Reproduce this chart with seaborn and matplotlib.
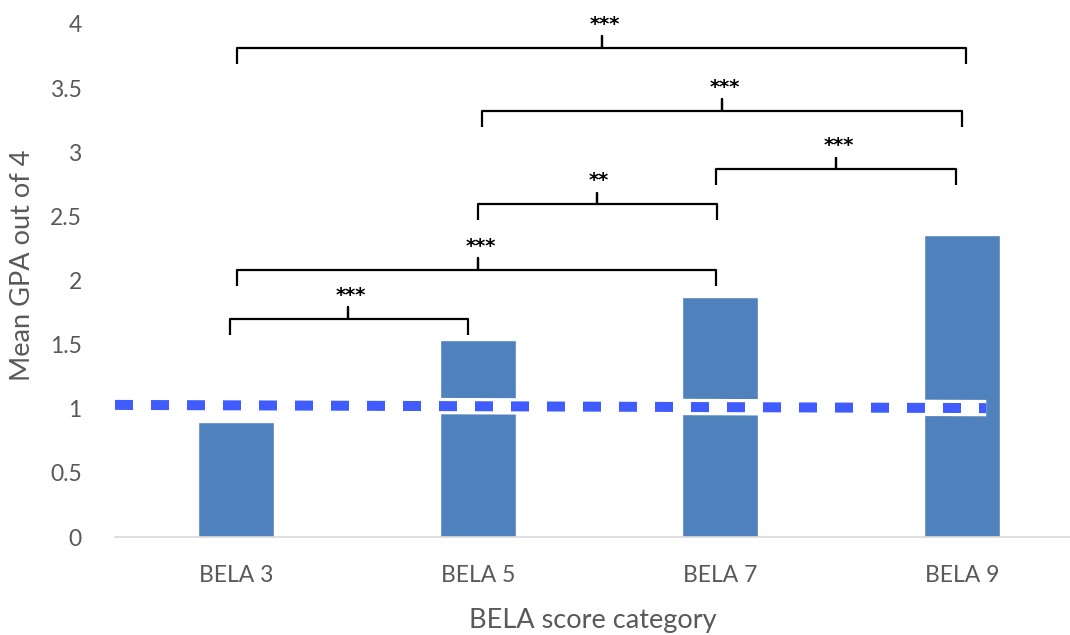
import matplotlib
matplotlib.use("Agg")
import matplotlib.pyplot as plt
import seaborn as sns
import pandas as pd

# ---- data ----
categories = ["BELA 3", "BELA 5", "BELA 7", "BELA 9"]
mean_gpa = [0.897, 1.536, 1.870, 2.355]

# reference (dashed) line endpoints
ref_x = [-0.5, 3.10]
ref_y = [1.03, 1.005]

# significance brackets: (left x, right x, tip x, bar y, label)
brackets = [
    (-0.025, 0.959, 0.463, 1.70, "***"),
    (0.004, 1.983, 1.000, 2.082, "***"),
    (1.000, 1.988, 1.490, 2.596, "**"),
    (1.983, 2.975, 2.479, 2.869, "***"),
    (1.017, 3.000, 2.008, 3.322, "***"),
    (0.004, 3.017, 1.512, 3.813, "***"),
]

yticks = [0, 0.5, 1, 1.5, 2, 2.5, 3, 3.5, 4]
ytick_labels = ["0", "0.5", "1", "1.5", "2", "2.5", "3", "3.5", "4"]

sns.set_theme(style="white")
plt.rcParams["font.family"] = ["Lato", "DejaVu Sans"]

df = pd.DataFrame({"cat": categories, "gpa": mean_gpa})

fig = plt.figure(figsize=(10.7, 6.35), dpi=100)
ax = fig.add_axes([115 / 1070, 98 / 635, 1 - 115 / 1070, (611 - 98) / 635])

sns.barplot(data=df, x="cat", y="gpa", color="#4f81bd", saturation=1,
            width=0.315, ax=ax, zorder=2)

# white halo + dashed reference line
ax.plot(ref_x, ref_y, color="white", lw=11.8, solid_capstyle="butt", zorder=3)
ax.plot(ref_x, ref_y, color="#405cff", lw=7.2, dashes=(1.8, 1.8),
        dash_capstyle="butt", zorder=4)

# brackets
drop = 0.125
tip = 0.09
for xl, xr, xt, yb, lab in brackets:
    ax.plot([xl, xl, xt, xt, xt, xr, xr],
            [yb - drop, yb, yb, yb + tip, yb, yb, yb - drop],
            color="black", lw=1.6, solid_joinstyle="round",
            solid_capstyle="butt", clip_on=False, zorder=5)
    ax.text(xt + 0.01, yb + 0.18, lab, ha="center", va="center",
            fontsize=14, color="black", fontweight="bold", clip_on=False,
            family=["DejaVu Sans"])

ax.set_xlim(-0.5, 3.446)
ax.set_ylim(0, 4)
ax.set_yticks(yticks)
ax.set_yticklabels(ytick_labels)
ax.tick_params(axis="y", length=0, pad=24, labelsize=16.5, labelcolor="#595959")
ax.tick_params(axis="x", length=0, pad=20, labelsize=16.5, labelcolor="#595959")

for s in ["top", "right", "left"]:
    ax.spines[s].set_visible(False)
ax.spines["bottom"].set_color("#d9d9d9")
ax.spines["bottom"].set_linewidth(1.2)

ax.set_xlabel("BELA score category", fontsize=19.5, color="#595959", labelpad=16)
ax.set_ylabel("Mean GPA out of 4", fontsize=19.5, color="#595959")
ax.yaxis.set_label_coords(-80 / 955, (537 - 265) / 513)

fig.savefig("out.png", dpi=100)
